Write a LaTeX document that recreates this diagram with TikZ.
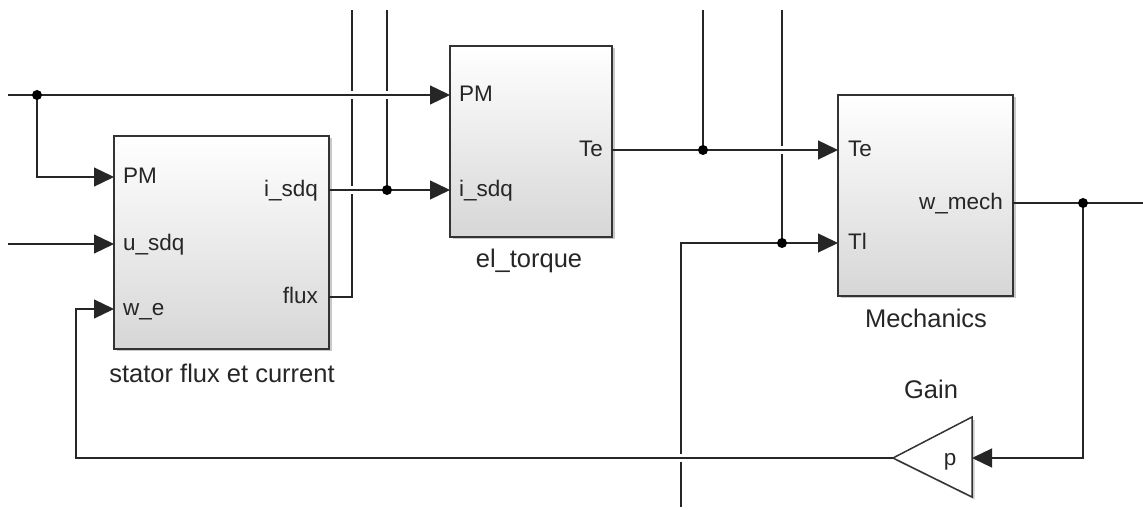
\documentclass[tikz,border=0pt]{standalone}
\usepackage{fontspec}
\setmainfont{Liberation Sans}
\usetikzlibrary{arrows.meta,shadows}
\begin{document}
\begin{tikzpicture}[x=1pt,y=-1pt,
  wire/.style={line width=1.3pt, draw=black!85},
  sig/.style={wire,-{Triangle[length=20pt,width=19pt]}},
  blk/.style={draw=black!80, line width=1.5pt, rectangle, inner sep=0pt, outer sep=0pt,
    top color=white, bottom color=black!16,
    drop shadow={shadow xshift=2.5pt,shadow yshift=-2.5pt,opacity=0.3,fill=black!70}},
  port/.style={font=\fontsize{22.5}{24}\selectfont, inner sep=0pt, text=black!85},
  bname/.style={font=\fontsize{25.5}{28}\selectfont, inner sep=0pt, text=black!85},
  jdot/.style={circle,fill=black,inner sep=0pt,minimum size=10pt},
  hop/.style={fill=white,draw=none}
]
\useasboundingbox (0,0) rectangle (1143,510);

% blocks
\node[blk, minimum width=215pt, minimum height=213pt] (st) at (221.5,242.5) {};
\node[blk, minimum width=162pt, minimum height=191pt] (et) at (531,141.5) {};
\node[blk, minimum width=175pt, minimum height=201pt] (me) at (925.5,195.5) {};
\draw[line width=1.5pt, draw=black!80, fill=white,
  drop shadow={shadow xshift=2.5pt,shadow yshift=-2.5pt,opacity=0.3,fill=black!70}]
  (972,417) -- (972,497) -- (893,458) -- cycle;
\coordinate (gin) at (972,458);
\coordinate (gout) at (893,458);

% port labels
\node[port, anchor=base west] (lstPM) at (123,184) {PM};
\node[port, anchor=base west] (lstU) at (123,251) {u\_sdq};
\node[port, anchor=base west] (lstW) at (123,316) {w\_e};
\node[port, anchor=base east] (lstI) at (318,197) {i\_sdq};
\node[port, anchor=base east] (lstF) at (318,304) {flux};
\node[port, anchor=base west] (letPM) at (459,102) {PM};
\node[port, anchor=base west] (letI) at (459,197) {i\_sdq};
\node[port, anchor=base east] (letTe) at (603,157) {Te};
\node[port, anchor=base west] (lmeTe) at (848,157) {Te};
\node[port, anchor=base west] (lmeTl) at (848,250) {Tl};
\node[port, anchor=base east] (lmeW) at (1003,210) {w\_mech};
\node[port, anchor=base] (lp) at (950,465) {p};

% block names
\node[bname, anchor=base] (nst) at (222,382) {stator flux et current};
\node[bname, anchor=base] (net) at (529,268) {el\_torque};
\node[bname, anchor=base] (nme) at (926,328) {Mechanics};
\node[bname, anchor=base] (ngain) at (931,399) {Gain};

% port coordinates
\coordinate (stPM) at (114,177);
\coordinate (stU) at (114,244);
\coordinate (stW) at (114,309);
\coordinate (stI) at (329,190);
\coordinate (stF) at (329,297);
\coordinate (etPM) at (450,95);
\coordinate (etI) at (450,190);
\coordinate (etTe) at (612,150);
\coordinate (meTe) at (838,150);
\coordinate (meTl) at (838,243);
\coordinate (meW) at (1013,203);

% free ends and junctions
\coordinate (inPM) at (8,95);
\coordinate (inU) at (8,244);
\coordinate (topF) at (352,10);
\coordinate (top2) at (387,10);
\coordinate (top3) at (703,10);
\coordinate (top4) at (782,10);
\coordinate (tlB) at (681,507);
\coordinate (outW) at (1143,203);
\coordinate (fb) at (76,309);
\coordinate (j1) at (37,95);
\coordinate (j2) at (387,190);
\coordinate (j3) at (703,150);
\coordinate (j4) at (782,243);
\coordinate (j5) at (1083,203);

% vertical wires that get crossed
\draw[wire] (stF) -| (topF);
\draw[wire] (top2) -- (j2);
\draw[wire] (top4) -- (j4);
\draw[sig] (tlB) |- (meTl);

% line hops
\fill[hop] (350,91) rectangle (354,99);
\fill[hop] (350,186) rectangle (354,194);
\fill[hop] (385,91) rectangle (389,99);
\fill[hop] (780,146) rectangle (784,154);
\fill[hop] (679,454) rectangle (683,462);

% remaining wires
\draw[sig] (inPM) -- (etPM);
\draw[sig] (j1) |- (stPM);
\draw[sig] (inU) -- (stU);
\draw[sig] (stI) -- (etI);
\draw[sig] (etTe) -- (meTe);
\draw[wire] (top3) -- (j3);
\draw[wire] (meW) -- (outW);
\draw[sig] (j5) |- (gin);
\draw[sig] (gout) -| (fb) -- (stW);

% junction dots
\node[jdot] (d1) at (j1) {};
\node[jdot] (d2) at (j2) {};
\node[jdot] (d3) at (j3) {};
\node[jdot] (d4) at (j4) {};
\node[jdot] (d5) at (j5) {};
\end{tikzpicture}
\end{document}
